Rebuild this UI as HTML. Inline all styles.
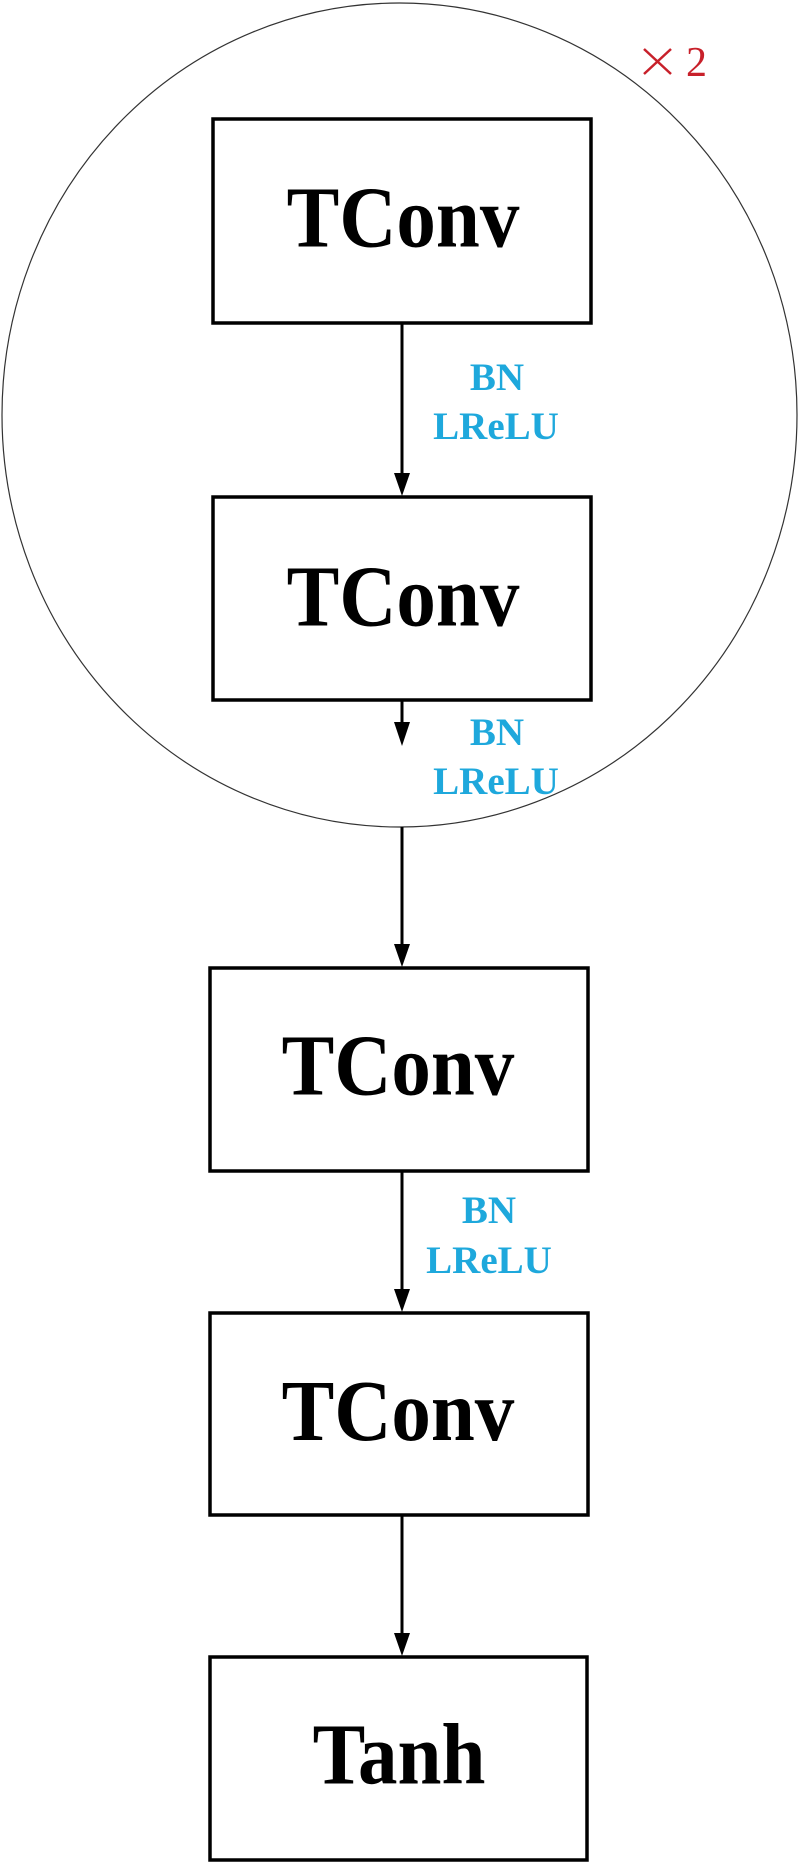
<!DOCTYPE html>
<html><head><meta charset="utf-8"><style>
html,body{margin:0;padding:0;background:#fff;}
</style></head><body>
<svg width="798" height="1863" viewBox="0 0 798 1863" xmlns="http://www.w3.org/2000/svg">
<ellipse cx="399.5" cy="415" rx="397.5" ry="412" fill="none" stroke="#333" stroke-width="1.2"/>
<g fill="none" stroke="#000" stroke-width="3.5">
<rect x="213" y="119" width="378" height="204"/>
<rect x="213" y="497" width="378" height="203"/>
<rect x="210" y="968" width="378" height="203"/>
<rect x="210" y="1313" width="378" height="202"/>
<rect x="210" y="1657" width="377" height="203"/>
</g>
<g stroke="#000" stroke-width="3">
<line x1="402" y1="323" x2="402" y2="475"/>
<line x1="402" y1="700" x2="402" y2="725"/>
<line x1="402" y1="827" x2="402" y2="946"/>
<line x1="402" y1="1171" x2="402" y2="1291"/>
<line x1="402" y1="1515" x2="402" y2="1635"/>
</g>
<g fill="#000">
<polygon points="394,473 410,473 402,496"/>
<polygon points="394,722 410,722 402,746"/>
<polygon points="394,944 410,944 402,967"/>
<polygon points="394,1289 410,1289 402,1312"/>
<polygon points="394,1633 410,1633 402,1656"/>
</g>
<g font-family="Liberation Serif, serif" font-weight="bold" font-size="79" text-anchor="middle" fill="#000">
<text x="403" y="247" transform="translate(0,-25) scale(1,1.1)">TConv</text>
<text x="403" y="625" transform="translate(0,-62) scale(1,1.1)">TConv</text>
<text x="398" y="1095" transform="translate(0,-110) scale(1,1.1)">TConv</text>
<text x="398" y="1440" transform="translate(0,-144) scale(1,1.1)">TConv</text>
<text x="399" y="1783" transform="translate(0,-178) scale(1,1.1)">Tanh</text>
</g>
<g font-family="Liberation Serif, serif" font-weight="bold" font-size="39" text-anchor="middle" fill="#1ea8dc">
<text x="497" y="390">BN</text>
<text x="496" y="439">LReLU</text>
<text x="497" y="745">BN</text>
<text x="496" y="794">LReLU</text>
<text x="489" y="1223">BN</text>
<text x="489" y="1273">LReLU</text>
</g>
<g stroke="#c8202a" stroke-width="2.5">
<line x1="644" y1="49" x2="671" y2="74"/>
<line x1="671" y1="49" x2="644" y2="74"/>
</g>
<text x="686" y="76" font-family="Liberation Serif, serif" font-size="42" fill="#c8202a">2</text>
</svg>
</body></html>
